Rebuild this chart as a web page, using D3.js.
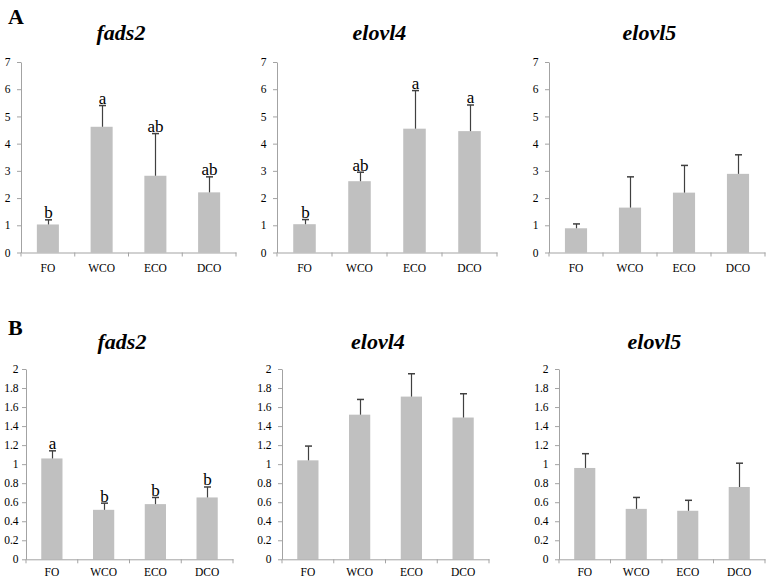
<!DOCTYPE html>
<html>
<head>
<meta charset="utf-8">
<script src="https://cdn.jsdelivr.net/npm/d3@7"></script>
<style>
  html, body { margin: 0; padding: 0; background: #fff; }
  svg { display: block; }
  text { font-family: "Liberation Serif", "Times New Roman", serif; fill: #000; }
</style>
</head>
<body>
<svg id="chart" width="767" height="582"></svg>
<script>
// ---- DATA ----
const categories = ["FO", "WCO", "ECO", "DCO"];

// Panel A
const aFads2Mean  = [1.03, 4.62, 2.82, 2.21];
const aFads2Err   = [0.17, 0.78, 1.55, 0.57];
const aFads2Sig   = ["b", "a", "ab", "ab"];
const aElovl4Mean = [1.04, 2.62, 4.55, 4.46];
const aElovl4Err  = [0.17, 0.33, 1.40, 0.96];
const aElovl4Sig  = ["b", "ab", "a", "a"];
const aElovl5Mean = [0.89, 1.65, 2.20, 2.89];
const aElovl5Err  = [0.16, 1.13, 1.00, 0.70];
const aElovl5Sig  = ["", "", "", ""];

// Panel B
const bFads2Mean  = [1.06, 0.52, 0.58, 0.65];
const bFads2Err   = [0.08, 0.07, 0.07, 0.11];
const bFads2Sig   = ["a", "b", "b", "b"];
const bElovl4Mean = [1.04, 1.52, 1.71, 1.49];
const bElovl4Err  = [0.15, 0.16, 0.24, 0.25];
const bElovl4Sig  = ["", "", "", ""];
const bElovl5Mean = [0.96, 0.53, 0.51, 0.76];
const bElovl5Err  = [0.15, 0.12, 0.11, 0.25];
const bElovl5Sig  = ["", "", "", ""];

const yTicksA = [0, 1, 2, 3, 4, 5, 6, 7];
const yTickLabelsA = ["0", "1", "2", "3", "4", "5", "6", "7"];
const yTicksB = [0, 0.2, 0.4, 0.6, 0.8, 1, 1.2, 1.4, 1.6, 1.8, 2];
const yTickLabelsB = ["0", "0.2", "0.4", "0.6", "0.8", "1", "1.2", "1.4", "1.6", "1.8", "2"];

const titles = ["fads2", "elovl4", "elovl5"];
const panelLabels = ["A", "B"];

// ---- LAYOUT ----
const rows = [
  { label: panelLabels[0], labelY: 24, titleY: 40, yTop: 62, yBot: 252.5, yMax: 7,
    ticks: yTicksA, tickLabels: yTickLabelsA, fs: 11.5, xPad: 11,
    panels: [
      { x0: 21,  x1: 236, mean: aFads2Mean,  err: aFads2Err,  sig: aFads2Sig,  title: titles[0], lpad: 10.5 },
      { x0: 277, x1: 497, mean: aElovl4Mean, err: aElovl4Err, sig: aElovl4Sig, title: titles[1], lpad: 10.5 },
      { x0: 549, x1: 765, mean: aElovl5Mean, err: aElovl5Err, sig: aElovl5Sig, title: titles[2], lpad: 10.5 }
    ]},
  { label: panelLabels[1], labelY: 335, titleY: 349, yTop: 369, yBot: 559.3, yMax: 2,
    ticks: yTicksB, tickLabels: yTickLabelsB, fs: 11.5, xPad: 9,
    panels: [
      { x0: 26,  x1: 233, mean: bFads2Mean,  err: bFads2Err,  sig: bFads2Sig,  title: titles[0], lpad: 7.5 },
      { x0: 282, x1: 489, mean: bElovl4Mean, err: bElovl4Err, sig: bElovl4Sig, title: titles[1], lpad: 10.5 },
      { x0: 559, x1: 765, mean: bElovl5Mean, err: bElovl5Err, sig: bElovl5Sig, title: titles[2], lpad: 10.5 }
    ]}
];

const svg = d3.select("#chart");
const axisColor = "#a3a3a3";
const barColor = "#c0c0c0";
const errColor = "#404040";

rows.forEach(row => {
  svg.append("text")
    .attr("x", 8).attr("y", row.labelY)
    .attr("font-size", 22).attr("font-weight", "bold")
    .text(row.label);

  row.panels.forEach(p => {
    const g = svg.append("g");
    const y = d3.scaleLinear().domain([0, row.yMax]).range([row.yBot, row.yTop]);
    const x = d3.scaleBand().domain(categories).range([p.x0, p.x1])
      .paddingInner(0.59).paddingOuter(0.295);

    // title
    g.append("text")
      .attr("x", (p.x0 - 15 + p.x1) / 2).attr("y", row.titleY)
      .attr("text-anchor", "middle")
      .attr("font-size", 22).attr("font-weight", "bold").attr("font-style", "italic")
      .text(p.title);

    // y axis
    const ya = g.append("g").attr("transform", `translate(${p.x0},0)`)
      .call(d3.axisLeft(y).tickValues(row.ticks)
        .tickFormat((d, i) => row.tickLabels[i])
        .tickSize(4).tickSizeOuter(0).tickPadding(p.lpad - 4));
    ya.selectAll("path, line").attr("stroke", axisColor);
    ya.selectAll("text").attr("font-size", row.fs)
      .attr("font-family", "Liberation Serif, Times New Roman, serif").attr("fill", "#000");

    // bars
    g.selectAll("rect.bar").data(categories).enter().append("rect")
      .attr("x", d => x(d))
      .attr("y", (d, i) => y(p.mean[i]))
      .attr("width", x.bandwidth())
      .attr("height", (d, i) => y(0) - y(p.mean[i]))
      .attr("fill", barColor);

    // error bars (upper only)
    const capW = 3.5;
    categories.forEach((c, i) => {
      const cx = Math.round(x(c) + x.bandwidth() / 2) + 0.5;
      const top = y(p.mean[i] + p.err[i]);
      g.append("line").attr("x1", cx).attr("x2", cx)
        .attr("y1", y(p.mean[i])).attr("y2", top)
        .attr("stroke", errColor).attr("stroke-width", 1.2);
      g.append("line").attr("x1", cx - capW).attr("x2", cx + capW)
        .attr("y1", top).attr("y2", top)
        .attr("stroke", errColor).attr("stroke-width", 1.5);
      if (p.sig[i]) {
        g.append("text").attr("x", cx).attr("y", top - 1.5)
          .attr("text-anchor", "middle").attr("font-size", 17)
          .text(p.sig[i]);
      }
    });

    // x axis
    const xa = g.append("g").attr("transform", `translate(0,${row.yBot})`)
      .call(d3.axisBottom(x).tickSize(0).tickSizeOuter(0).tickPadding(row.xPad));
    xa.selectAll("path").attr("stroke", axisColor);
    xa.selectAll("text").attr("font-size", row.fs)
      .attr("font-family", "Liberation Serif, Times New Roman, serif").attr("fill", "#000");
    // category boundary ticks
    const bounds = d3.range(categories.length + 1).map(i => p.x0 + i * x.step());
    xa.selectAll("line.bound").data(bounds).enter().append("line")
      .attr("class", "bound")
      .attr("x1", d => d).attr("x2", d => d)
      .attr("y1", 0).attr("y2", 4)
      .attr("stroke", axisColor);
  });
});
</script>
</body>
</html>
